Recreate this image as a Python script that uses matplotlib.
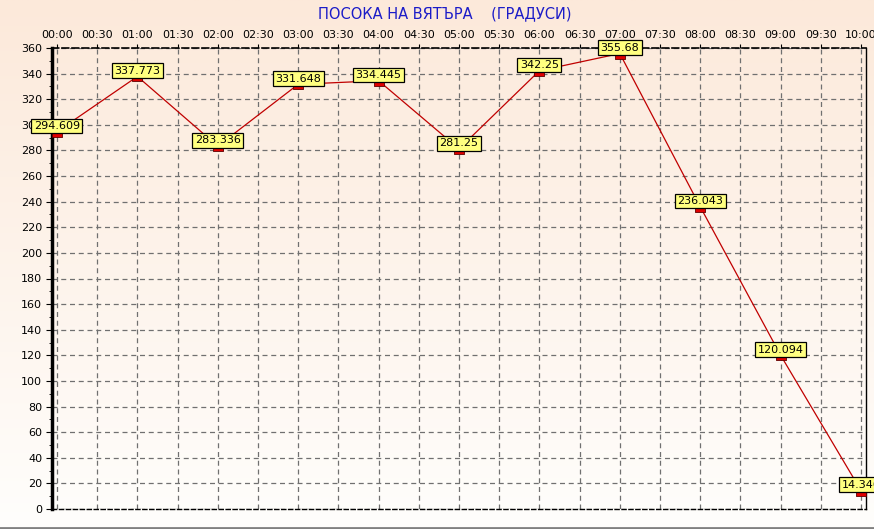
import numpy as np
import matplotlib
matplotlib.use('Agg')
from matplotlib import pyplot as plt
from matplotlib.path import Path

hours = [0, 1, 2, 3, 4, 5, 6, 7, 8, 9, 10]
direction = [294.609, 337.773, 283.336, 331.648, 334.445, 281.25,
             342.25, 355.68, 236.043, 120.094, 14.346]
value_labels = ['294.609', '337.773', '283.336', '331.648', '334.445', '281.25',
                '342.25', '355.68', '236.043', '120.094', '14.346']
x_ticks = [i * 0.5 for i in range(21)]
x_tick_labels = ['%02d:%02d' % (int(t), 30 if t % 1 else 0) for t in x_ticks]
y_ticks = list(range(0, 361, 20))
title = u'ПОСОКА НА ВЯТЪРА    (ГРАДУСИ)'

W, H = 874, 529
fig = plt.figure(figsize=(W / 100.0, H / 100.0), dpi=100)

# background gradient over the whole figure
bg = fig.add_axes([0, 0, 1, 1], zorder=-10)
top = np.array([252, 233, 218]) / 255.0
bot = np.array([255, 254, 252]) / 255.0
t = np.linspace(0, 1, 256)[:, None]
grad = top * (1 - t) + bot * t
bg.imshow(grad[:, None, :].repeat(2, axis=1), aspect='auto', extent=[0, 1, 0, 1])
bg.axis('off')
bg.plot([0, 1], [1.5 / H, 1.5 / H], color='#808080', lw=2, transform=bg.transAxes)

x0, x1, ytop, ybot = 52, 866, 48, 509
ax = fig.add_axes([x0 / W, (H - ybot) / H, (x1 - x0) / W, (ybot - ytop) / H])
ax.patch.set_alpha(0)
ax.set_xlim(-0.062, 10.062)
ax.set_ylim(0, 360)

ax.xaxis.tick_top()
ax.set_xticks(x_ticks)
ax.set_xticklabels(x_tick_labels)
ax.set_yticks(y_ticks)
ax.set_yticks(range(0, 361, 10), minor=True)
ax.tick_params(axis='both', labelsize=8, colors='black', length=4, width=0.8, pad=3)
ax.tick_params(axis='y', which='minor', length=2)
ax.tick_params(axis='x', length=3)
ax.grid(True, color='#707070', ls=(0, (4, 3)), lw=0.9)

ax.spines['left'].set_linewidth(2.5)
ax.spines['right'].set_linewidth(1.0)
ax.spines['top'].set_linestyle((0, (4, 2)))
ax.spines['top'].set_linewidth(1.2)
ax.spines['bottom'].set_linestyle((0, (3, 2)))
ax.spines['bottom'].set_linewidth(1.0)

# small red rectangle hanging just below each point
rect = Path([(-1, 0), (1, 0), (1, -1), (-1, -1), (-1, 0)])
ax.plot(hours, direction, color='#C00000', lw=0.9, zorder=3)
ax.plot(hours, direction, ls='none', marker=rect, ms=7.2, mfc='#E00000',
        mec='#600000', mew=0.6, zorder=4, clip_on=False)

for h, v, s in zip(hours, direction, value_labels):
    ax.annotate(s, (h, v), xytext=(0, 0.5), textcoords='offset points',
                ha='center', va='bottom', fontsize=8, zorder=5,
                bbox=dict(boxstyle='square,pad=0.22', fc='#FFFF80', ec='black', lw=0.9),
                annotation_clip=False)

fig.text(445 / W, 1 - 14 / H, title, color='#1C1CC8', fontsize=10.5,
         ha='center', va='center')

fig.savefig('out.png', dpi=100)
